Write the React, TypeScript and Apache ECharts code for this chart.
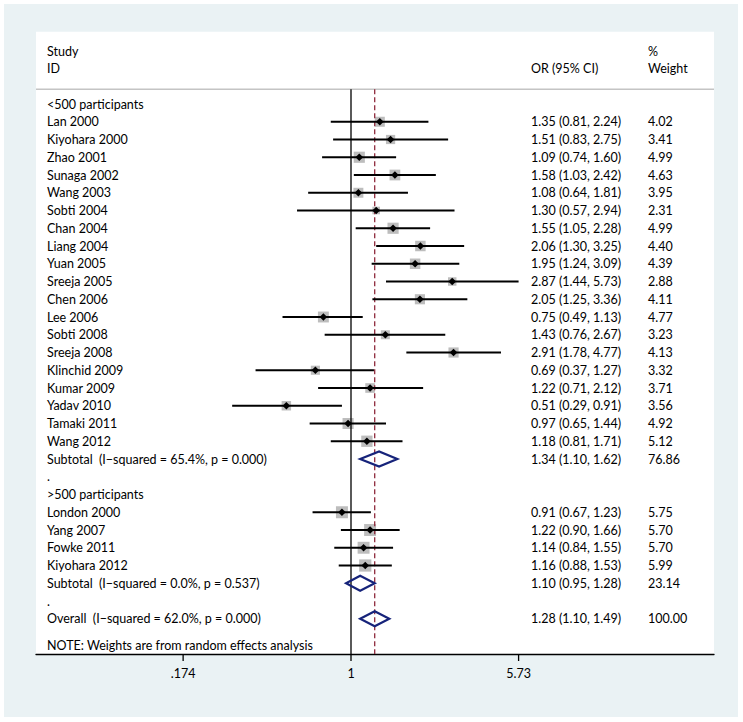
import React, { useEffect, useRef } from "react";
import * as echarts from "echarts";

// ---- data ----
const rowLabels = [
  "<500 participants",
  "Lan 2000", "Kiyohara 2000", "Zhao 2001", "Sunaga 2002", "Wang 2003", "Sobti 2004",
  "Chan 2004", "Liang 2004", "Yuan 2005", "Sreeja 2005", "Chen 2006", "Lee 2006",
  "Sobti 2008", "Sreeja 2008", "Klinchid 2009", "Kumar 2009", "Yadav 2010",
  "Tamaki 2011", "Wang 2012",
  "Subtotal  (I\u2212squared = 65.4%, p = 0.000)",
  ".",
  ">500 participants",
  "London 2000", "Yang 2007", "Fowke 2011", "Kiyohara 2012",
  "Subtotal  (I\u2212squared = 0.0%, p = 0.537)",
  ".",
  "Overall  (I\u2212squared = 62.0%, p = 0.000)",
];
const rowKinds = [
  "head",
  "study", "study", "study", "study", "study", "study", "study", "study", "study", "study",
  "study", "study", "study", "study", "study", "study", "study", "study", "study",
  "pooled", "blank", "head",
  "study", "study", "study", "study",
  "pooled", "blank", "pooled",
];
const orValues = [
  null,
  1.35, 1.51, 1.09, 1.58, 1.08, 1.30, 1.55, 2.06, 1.95, 2.87, 2.05, 0.75, 1.43, 2.91, 0.69, 1.22, 0.51, 0.97, 1.18,
  1.34, null, null,
  0.91, 1.22, 1.14, 1.16,
  1.10, null, 1.28,
];
const ciLower = [
  null,
  0.81, 0.83, 0.74, 1.03, 0.64, 0.57, 1.05, 1.30, 1.24, 1.44, 1.25, 0.49, 0.76, 1.78, 0.37, 0.71, 0.29, 0.65, 0.81,
  1.10, null, null,
  0.67, 0.90, 0.84, 0.88,
  0.95, null, 1.10,
];
const ciUpper = [
  null,
  2.24, 2.75, 1.60, 2.42, 1.81, 2.94, 2.28, 3.25, 3.09, 5.73, 3.36, 1.13, 2.67, 4.77, 1.27, 2.12, 0.91, 1.44, 1.71,
  1.62, null, null,
  1.23, 1.66, 1.55, 1.53,
  1.28, null, 1.49,
];
const weights = [
  null,
  4.02, 3.41, 4.99, 4.63, 3.95, 2.31, 4.99, 4.40, 4.39, 2.88, 4.11, 4.77, 3.23, 4.13, 3.32, 3.71, 3.56, 4.92, 5.12,
  76.86, null, null,
  5.75, 5.70, 5.70, 5.99,
  23.14, null, 100.0,
];
const overallOR = 1.28;
const tickValues = [0.174, 1, 5.73];
const tickLabels = [".174", "1", "5.73"];
const headerLeft = ["Study", "ID"];
const headerEffect = "OR (95% CI)";
const headerWeight = ["%", "Weight"];
const noteText = "NOTE: Weights are from random effects analysis";

// ---- layout constants ----
const W = 743;
const H = 722;
const FONT = "Lato";
const FS = 12.5;
const PANEL_L = 36;
const PANEL_R = 714;
const PANEL_T = 31.7;
const AXIS_Y = 654;
const ROW0_Y = 104;
const ROW_H = 17.75;
const NULL_X = 351;
const PX_PER_LN = 96;
const xMinLn = (PANEL_L - NULL_X) / PX_PER_LN;
const xMaxLn = (PANEL_R - NULL_X) / PX_PER_LN;
const yMinRow = (PANEL_T - ROW0_Y) / ROW_H;
const yMaxRow = (AXIS_Y - ROW0_Y) / ROW_H;
const SEP_ROW = (89.3 - ROW0_Y) / ROW_H;
const LABEL_X = 47;
const EFFECT_X = 531;
const WEIGHT_X = 648;
const NAVY = "#16237a";
const MAROON = "#8f2a3c";

function txt(text: string, x: number, y: number, align = "left") {
  return {
    type: "text",
    style: {
      text,
      x,
      y,
      fill: "#000",
      fontSize: FS,
      fontFamily: FONT,
      align,
      verticalAlign: "middle",
    },
  };
}

export default function App() {
  const ref = useRef<HTMLDivElement>(null);
  useEffect(() => {
    if (!ref.current) return;
    const chart = echarts.init(ref.current, undefined, { renderer: "svg" });
    const rowData = rowLabels.map((_, i) => [0, i]);

    const option: any = {
      animation: false,
      backgroundColor: "#ffffff",
      grid: {
        left: PANEL_L,
        right: W - PANEL_R,
        top: PANEL_T,
        bottom: H - AXIS_Y,
        containLabel: false,
      },
      xAxis: {
        type: "value",
        min: xMinLn,
        max: xMaxLn,
        position: "bottom",
        axisLine: { show: true, onZero: false, lineStyle: { color: "#000", width: 1.3 } },
        axisTick: { show: false },
        axisLabel: { show: false },
        splitLine: { show: false },
      },
      yAxis: {
        type: "value",
        inverse: true,
        min: yMinRow,
        max: yMaxRow,
        show: false,
      },
      graphic: [
        {
          type: "rect",
          z: -10,
          silent: true,
          shape: { x: 4, y: 4, width: 738 - 4, height: 717 - 4 },
          style: { fill: "#eaf2f4" },
        },
        {
          type: "rect",
          z: -9,
          silent: true,
          shape: { x: PANEL_L, y: PANEL_T, width: PANEL_R - PANEL_L, height: AXIS_Y - PANEL_T },
          style: { fill: "#ffffff" },
        },
      ],
      series: [
        {
          // header, separator, note
          type: "custom",
          z: 1,
          silent: true,
          clip: false,
          data: [[0, 0]],
          renderItem: (_p: any, api: any) => {
            const yStudy = api.coord([0, (51.7 - ROW0_Y) / ROW_H])[1];
            const yId = api.coord([0, (68.3 - ROW0_Y) / ROW_H])[1];
            const ySep = api.coord([0, SEP_ROW])[1];
            const yNote = api.coord([0, 30.5])[1];
            const xl = api.coord([xMinLn, 0])[0];
            const xr = api.coord([xMaxLn, 0])[0];
            return {
              type: "group",
              children: [
                txt(headerLeft[0], LABEL_X, yStudy),
                txt(headerLeft[1], LABEL_X, yId),
                txt(headerEffect, EFFECT_X, yId),
                txt(headerWeight[0], WEIGHT_X, yStudy),
                txt(headerWeight[1], WEIGHT_X, yId),
                {
                  type: "line",
                  shape: { x1: xl, y1: ySep, x2: xr, y2: ySep },
                  style: { stroke: "#c4c4c4", lineWidth: 1.5 },
                },
                txt(noteText, LABEL_X, yNote),
              ],
            };
          },
        },
        {
          // axis ticks and tick labels
          type: "custom",
          z: 5,
          silent: true,
          clip: false,
          data: tickValues.map((v) => [Math.log(v), yMaxRow]),
          renderItem: (p: any, api: any) => {
            const c = api.coord([api.value(0), api.value(1)]);
            return {
              type: "group",
              children: [
                {
                  type: "line",
                  shape: { x1: c[0], y1: c[1], x2: c[0], y2: c[1] + 7 },
                  style: { stroke: "#000", lineWidth: 1.3 },
                },
                {
                  type: "text",
                  style: {
                    text: tickLabels[p.dataIndex],
                    x: c[0],
                    y: c[1] + 19,
                    fill: "#000",
                    fontSize: FS,
                    fontFamily: FONT,
                    align: "center",
                    verticalAlign: "middle",
                  },
                },
              ],
            };
          },
        },
        {
          // boxes (under reference lines)
          type: "custom",
          z: 2,
          silent: true,
          data: rowData,
          renderItem: (p: any, api: any) => {
            const i = p.dataIndex;
            if (rowKinds[i] !== "study") return { type: "group", children: [] };
            const c = api.coord([Math.log(orValues[i] as number), i]);
            const s = 5 * Math.sqrt(weights[i] as number);
            return {
              type: "rect",
              shape: { x: c[0] - s / 2, y: c[1] - s / 2, width: s, height: s },
              style: { fill: "#bdbdbd" },
            };
          },
        },
        {
          // reference lines
          type: "custom",
          z: 3,
          silent: true,
          data: [[0, 0], [Math.log(overallOR), 1]],
          renderItem: (p: any, api: any) => {
            const v = api.value(0);
            const top = api.coord([v, SEP_ROW]);
            const bot = api.coord([v, yMaxRow]);
            const dashed = p.dataIndex === 1;
            return {
              type: "line",
              shape: { x1: top[0], y1: top[1], x2: bot[0], y2: bot[1] },
              style: dashed
                ? { stroke: MAROON, lineWidth: 1.3, lineDash: [5, 3] }
                : { stroke: "#000", lineWidth: 1.3 },
            };
          },
        },
        {
          // rows: CIs, markers, diamonds, text
          type: "custom",
          z: 4,
          silent: true,
          data: rowData,
          renderItem: (p: any, api: any) => {
            const i = p.dataIndex;
            const kind = rowKinds[i];
            const y = api.coord([0, i])[1];
            const children: any[] = [txt(rowLabels[i], LABEL_X, y)];
            if (kind === "study" || kind === "pooled") {
              const est = orValues[i] as number;
              const lo = ciLower[i] as number;
              const hi = ciUpper[i] as number;
              const xe = api.coord([Math.log(est), i])[0];
              const xl = api.coord([Math.log(lo), i])[0];
              const xh = api.coord([Math.log(hi), i])[0];
              if (kind === "study") {
                children.push({
                  type: "line",
                  shape: { x1: xl, y1: y, x2: xh, y2: y },
                  style: { stroke: "#000", lineWidth: 2.2 },
                });
                children.push({
                  type: "polygon",
                  shape: { points: [[xe - 3.8, y], [xe, y - 3.8], [xe + 3.8, y], [xe, y + 3.8]] },
                  style: { fill: "#000" },
                });
              } else {
                children.push({
                  type: "polygon",
                  shape: { points: [[xl, y], [xe, y - 7.5], [xh, y], [xe, y + 7.5]] },
                  style: { fill: "none", stroke: NAVY, lineWidth: 2.2 },
                });
              }
              children.push(txt(`${est.toFixed(2)} (${lo.toFixed(2)}, ${hi.toFixed(2)})`, EFFECT_X, y));
              children.push(txt((weights[i] as number).toFixed(2), WEIGHT_X, y));
            }
            return { type: "group", children };
          },
        },
      ],
    };
    chart.setOption(option);
    return () => chart.dispose();
  }, []);

  return (
    <div
      ref={ref}
      style={{ position: "fixed", left: 0, top: 0, width: W, height: H, background: "#fff" }}
    />
  );
}
